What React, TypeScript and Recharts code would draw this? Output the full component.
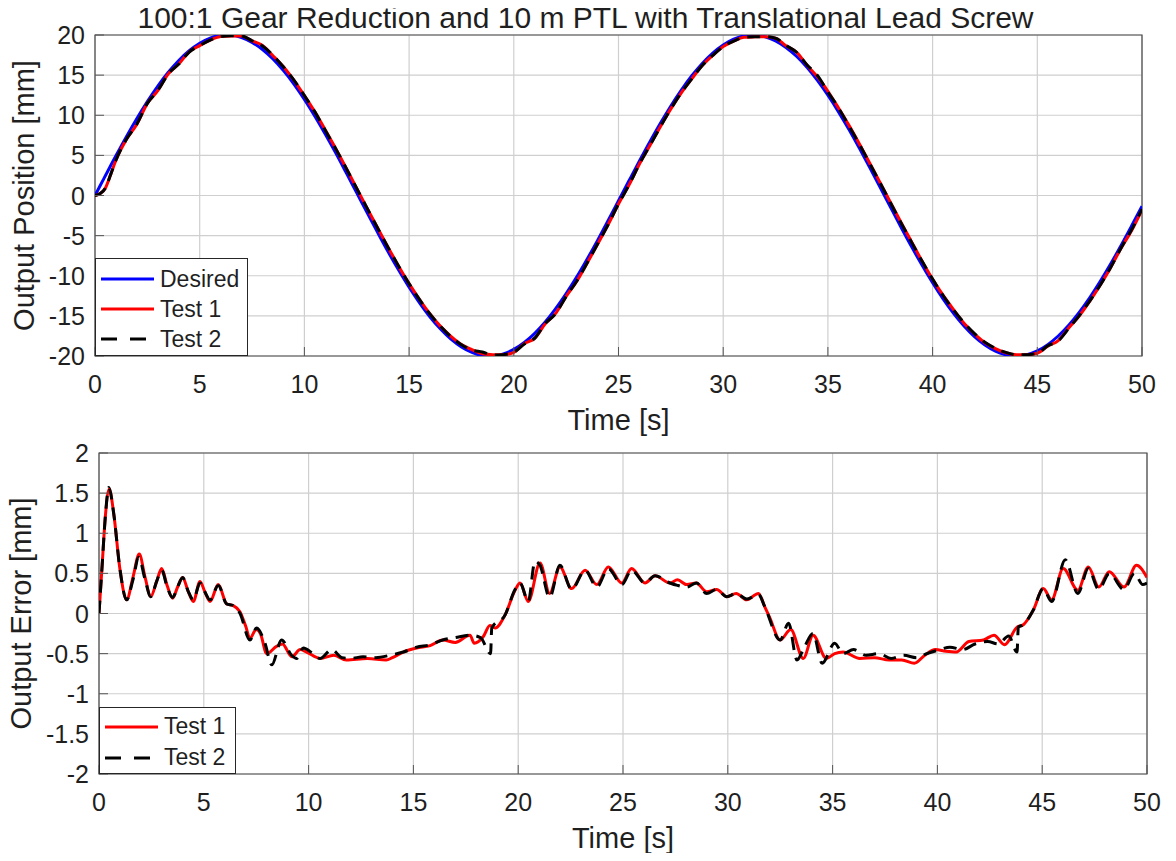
import React from "react";
import { LineChart, Line, XAxis, YAxis, CartesianGrid, Legend, ReferenceArea } from "recharts";

const FONT = '"Liberation Sans", Arial, Helvetica, sans-serif';
const INK = "#1f1f1f";
const GRID = "#cfcfcf";

const TITLE = "100:1 Gear Reduction and 10 m PTL with Translational Lead Screw";

// ---- top panel: output position [mm] ----
const topT = [
  0, 0.25, 0.5, 0.75, 1, 1.5, 2, 2.5, 3, 3.5, 4, 4.5, 5, 5.5, 6, 6.5, 7, 7.5, 8, 8.5, 9, 9.5, 10, 10.5, 11, 11.5, 12,
  12.5, 13, 13.5, 14, 14.5, 15, 15.5, 16, 16.5, 17, 17.5, 18, 18.5, 19, 19.5, 20, 20.5, 21, 21.5, 22, 22.5, 23, 23.5,
  24, 24.5, 25, 25.5, 26, 26.5, 27, 27.5, 28, 28.5, 29, 29.5, 30, 30.5, 31, 31.5, 32, 32.5, 33, 33.5, 34, 34.5, 35,
  35.5, 36, 36.5, 37, 37.5, 38, 38.5, 39, 39.5, 40, 40.5, 41, 41.5, 42, 42.5, 43, 43.5, 44, 44.5, 45, 45.5, 46, 46.5,
  47, 47.5, 48, 48.5, 49, 49.5, 50,
];

const desiredPos = [
  0, 1.25, 2.49, 3.73, 4.95, 7.33, 9.59, 11.7, 13.63, 15.35, 16.83, 18.05, 18.98, 19.62, 19.95, 19.97, 19.68, 19.08,
  18.19, 17.01, 15.56, 13.88, 11.97, 9.87, 7.63, 5.28, 2.82, 0.33, -2.16, -4.62, -7.02, -9.29, -11.43, -13.38, -15.14,
  -16.64, -17.9, -18.87, -19.55, -19.93, -19.99, -19.73, -19.18, -18.32, -17.18, -15.77, -14.11, -12.23, -10.17, -7.94,
  -5.59, -3.15, -0.66, 1.83, 4.3, 6.7, 9.0, 11.16, 13.14, 14.92, 16.46, 17.75, 18.76, 19.48, 19.89, 20.0, 19.79, 19.27,
  18.45, 17.35, 15.97, 14.34, 12.49, 10.45, 8.24, 5.9, 3.47, 1.0, -1.5, -3.98, -6.39, -8.7, -10.88, -12.89, -14.69,
  -16.27, -17.59, -18.64, -19.4, -19.85, -20.0, -19.83, -19.36, -18.58, -17.51, -16.17, -14.57, -12.75, -10.73, -8.54,
  -6.22, -3.8, -1.33,
];

const test1Pos = [
  0, 0.25, 0.94, 2.63, 4.4, 6.98, 8.89, 11.48, 13.07, 15.16, 16.38, 17.9, 18.68, 19.37, 19.8, 19.89, 19.86, 19.28,
  18.69, 17.42, 16.04, 14.35, 12.45, 10.42, 8.16, 5.83, 3.39, 0.89, -1.6, -4.04, -6.47, -8.81, -10.98, -12.96, -14.76,
  -16.31, -17.54, -18.57, -19.2, -19.73, -19.83, -19.83, -19.54, -18.47, -17.8, -16.0, -14.69, -12.58, -10.71, -8.44,
  -6.07, -3.65, -1.06, 1.29, 3.92, 6.23, 8.58, 10.79, 12.78, 14.54, 16.19, 17.45, 18.55, 19.24, 19.71, 19.77, 19.79,
  19.6, 18.65, 17.87, 16.25, 14.79, 12.99, 10.93, 8.77, 6.46, 4.02, 1.57, -0.92, -3.39, -5.78, -8.2, -10.43, -12.42,
  -14.22, -15.92, -17.24, -18.34, -19.07, -19.6, -19.85, -19.83, -19.66, -18.78, -18.07, -16.52, -15.02, -13.2, -11.18,
  -8.99, -6.57, -4.4, -1.78,
];

const test2Pos = [
  0, 0.25, 0.92, 2.63, 4.4, 7.0, 8.91, 11.48, 13.09, 15.15, 16.38, 17.88, 18.68, 19.37, 19.8, 19.9, 19.88, 19.28,
  18.64, 17.46, 16.01, 14.38, 12.45, 10.42, 8.09, 5.81, 3.38, 0.87, -1.61, -4.08, -6.5, -8.81, -10.99, -12.98, -14.78,
  -16.31, -17.6, -18.59, -19.26, -19.51, -19.89, -19.83, -19.54, -18.52, -17.78, -15.95, -14.71, -12.58, -10.69,
  -8.42, -6.04, -3.65, -1.04, 1.31, 3.92, 6.23, 8.58, 10.8, 12.81, 14.54, 16.21, 17.45, 18.55, 19.24, 19.7, 19.78,
  19.79, 19.6, 18.7, 17.85, 16.27, 14.96, 12.89, 10.95, 8.69, 6.4, 3.97, 1.53, -0.96, -3.46, -5.84, -8.2, -10.42,
  -12.46, -14.25, -15.85, -17.22, -18.28, -19.04, -19.55, -19.85, -19.83, -19.66, -18.73, -18.11, -16.57, -14.97,
  -13.15, -11.18, -8.96, -6.54, -4.27, -1.71,
];

// ---- bottom panel: output error [mm] ----
const err1T = [
  0, 0.15, 0.3, 0.49, 0.7, 1.0, 1.32, 1.62, 1.92, 2.2, 2.47, 2.75, 2.99, 3.25, 3.51, 3.75, 3.99, 4.25, 4.5, 4.82, 5.05,
  5.3, 5.69, 6.09, 6.4, 6.73, 7.0, 7.2, 7.5, 7.7, 8.0, 8.47, 8.75, 9.2, 9.6, 9.9, 10.55, 11.2, 11.8, 12.8, 13.7, 14.0,
  14.52, 15.15, 15.8, 16.4, 17.0, 17.7, 17.9, 18.33, 18.65, 18.9, 19.37, 19.85, 20.09, 20.48, 21.04, 21.5, 21.99,
  22.55, 23.19, 23.75, 24.3, 24.94, 25.41, 26.05, 26.53, 27.24, 27.6, 28.04, 28.5, 28.99, 29.47, 29.95, 30.4, 30.9,
  31.46, 31.77, 32.0, 32.5, 33.0, 33.6, 34.07, 34.7, 35.1, 35.5, 36.3, 37.0, 37.7, 38.3, 38.9, 39.4, 39.9, 40.4, 40.9,
  41.5, 42.2, 42.7, 43.2, 43.8, 44.1, 44.57, 45.05, 45.45, 46.0, 46.7, 47.2, 47.7, 48.2, 48.9, 49.5, 50,
];
const err1 = [
  0, 0.6, 1.2, 1.55, 1.25, 0.55, 0.17, 0.45, 0.74, 0.45, 0.21, 0.4, 0.56, 0.35, 0.19, 0.33, 0.45, 0.28, 0.15, 0.4, 0.27,
  0.15, 0.36, 0.12, 0.1, 0.02, -0.16, -0.31, -0.2, -0.25, -0.5, -0.41, -0.38, -0.54, -0.45, -0.48, -0.56, -0.52, -0.58,
  -0.56, -0.58, -0.55, -0.48, -0.43, -0.4, -0.33, -0.36, -0.27, -0.37, -0.29, -0.15, -0.18, -0.02, 0.29, 0.38, 0.15,
  0.63, 0.25, 0.58, 0.31, 0.54, 0.36, 0.58, 0.38, 0.56, 0.38, 0.47, 0.38, 0.42, 0.36, 0.38, 0.27, 0.3, 0.21, 0.25, 0.17,
  0.25, 0.08, -0.05, -0.33, -0.2, -0.56, -0.27, -0.56, -0.5, -0.48, -0.56, -0.55, -0.58, -0.58, -0.62, -0.52, -0.45,
  -0.47, -0.48, -0.35, -0.33, -0.27, -0.39, -0.17, -0.14, 0.04, 0.31, 0.17, 0.56, 0.29, 0.58, 0.33, 0.52, 0.33, 0.6,
  0.45,
];

const err2T = [
  0, 0.15, 0.3, 0.47, 0.7, 1.0, 1.32, 1.62, 1.9, 2.2, 2.47, 2.75, 2.99, 3.25, 3.51, 3.75, 3.99, 4.25, 4.5, 4.82, 5.05,
  5.3, 5.69, 6.09, 6.4, 6.73, 7.2, 7.52, 7.92, 8.24, 8.71, 9.19, 9.43, 9.75, 10.2, 10.55, 11.1, 11.6, 12.0, 12.6, 13.2,
  13.9, 14.52, 15.15, 15.8, 16.4, 17.0, 17.7, 18.2, 18.68, 18.74, 19.37, 19.85, 20.09, 20.48, 20.8, 21.04, 21.5, 21.99,
  22.55, 23.19, 23.75, 24.3, 24.94, 25.41, 26.05, 26.53, 27.24, 27.6, 28.04, 28.5, 28.99, 29.47, 29.95, 30.4, 30.9,
  31.2, 31.46, 31.77, 32.5, 32.9, 33.3, 33.65, 34.07, 34.5, 35.1, 35.5, 36.0, 36.6, 37.2, 37.8, 38.4, 39.0, 39.5, 40.0,
  40.6, 41.2, 41.8, 42.4, 42.9, 43.4, 43.8, 43.86, 44.1, 44.57, 45.05, 45.45, 46.1, 46.7, 47.2, 47.7, 48.2, 48.9, 49.4,
  49.8, 50,
];
const err2 = [
  0, 0.6, 1.2, 1.57, 1.25, 0.55, 0.17, 0.42, 0.7, 0.42, 0.21, 0.4, 0.54, 0.33, 0.2, 0.33, 0.45, 0.28, 0.17, 0.38, 0.27,
  0.17, 0.35, 0.12, 0.1, 0.0, -0.33, -0.18, -0.37, -0.64, -0.33, -0.52, -0.56, -0.43, -0.5, -0.56, -0.45, -0.55, -0.56,
  -0.54, -0.55, -0.52, -0.48, -0.42, -0.39, -0.33, -0.3, -0.27, -0.3, -0.5, -0.18, -0.02, 0.3, 0.38, 0.15, 0.65, 0.6,
  0.2, 0.6, 0.3, 0.54, 0.33, 0.56, 0.36, 0.54, 0.38, 0.47, 0.38, 0.35, 0.33, 0.38, 0.25, 0.3, 0.21, 0.25, 0.18, 0.21,
  0.24, 0.08, -0.33, -0.12, -0.58, -0.42, -0.25, -0.62, -0.37, -0.5, -0.45, -0.52, -0.5, -0.56, -0.52, -0.55, -0.5,
  -0.46, -0.42, -0.45, -0.38, -0.35, -0.38, -0.28, -0.48, -0.17, -0.14, 0.04, 0.31, 0.15, 0.67, 0.25, 0.56, 0.3, 0.5,
  0.3, 0.5, 0.36, 0.38,
];

const timeTicks = [0, 5, 10, 15, 20, 25, 30, 35, 40, 45, 50];
const posTicks = [-20, -15, -10, -5, 0, 5, 10, 15, 20];
const errTicks = [-2, -1.5, -1, -0.5, 0, 0.5, 1, 1.5, 2];

const topRows = topT.map((t, i) => ({ t, desired: desiredPos[i], test1: test1Pos[i], test2: test2Pos[i] }));
const err1Rows = err1T.map((t, i) => ({ t, v: err1[i] }));
const err2Rows = err2T.map((t, i) => ({ t, v: err2[i] }));

const TICK_FS = 25;
const LABEL_FS = 29;
const DASH = "13 8";

// MATLAB style: ticks point into the plot, labels sit outside
function XTick(props: any) {
  const { x, y, payload } = props;
  return (
    <g>
      <line x1={x} x2={x} y1={y} y2={y - 9} stroke="#555" strokeWidth={1} />
      <text x={x} y={y + 28} textAnchor="middle" dominantBaseline="central" fontSize={TICK_FS} fill={INK} fontFamily={FONT}>
        {String(payload.value)}
      </text>
    </g>
  );
}

function YTick(props: any) {
  const { x, y, payload } = props;
  return (
    <g>
      <line x1={x} x2={x + 9} y1={y} y2={y} stroke="#555" strokeWidth={1} />
      <text x={x - 10} y={y} textAnchor="end" dominantBaseline="central" fontSize={TICK_FS} fill={INK} fontFamily={FONT}>
        {String(payload.value)}
      </text>
    </g>
  );
}

const xLabel = (props: any) => {
  const vb = props.viewBox;
  return (
    <text x={vb.x + vb.width / 2} y={vb.y + 64} textAnchor="middle" dominantBaseline="central" fontSize={LABEL_FS} fill={INK} fontFamily={FONT}>
      Time [s]
    </text>
  );
};

const yLabel = (text: string, cx: number) => (props: any) => {
  const vb = props.viewBox;
  const cy = vb.y + vb.height / 2;
  return (
    <text
      x={cx}
      y={cy}
      transform={`rotate(-90 ${cx} ${cy})`}
      textAnchor="middle"
      dominantBaseline="central"
      fontSize={LABEL_FS}
      fill={INK}
      fontFamily={FONT}
    >
      {text}
    </text>
  );
};

function BoxLegend({ payload, padTop, rowH }: any) {
  return (
    <div
      style={{
        boxSizing: "border-box",
        width: "100%",
        height: "100%",
        border: "1px solid #262626",
        background: "#fff",
        paddingTop: padTop,
        fontFamily: FONT,
      }}
    >
      {(payload ?? []).map((e: any) => (
        <div key={e.value} style={{ display: "flex", alignItems: "center", height: rowH }}>
          <svg width={64} height={10} style={{ flex: "none" }}>
            <line
              x1={5}
              x2={58}
              y1={5}
              y2={5}
              stroke={e.color}
              strokeWidth={3}
              strokeDasharray={e.payload?.strokeDasharray ? "16 13" : undefined}
            />
          </svg>
          <span style={{ fontSize: 23, color: INK, lineHeight: 1 }}>{e.value}</span>
        </div>
      ))}
    </div>
  );
}

// both panels start at the page's left edge (under the body margin) so the
// rotated y labels have room
export default function App() {
  return (
    <div style={{ position: "relative", width: 1160, height: 845, background: "#fff", fontFamily: FONT }}>
      <div
        style={{
          position: "absolute",
          left: 0,
          top: -7,
          width: 1155,
          textAlign: "center",
          fontSize: 30,
          lineHeight: "34px",
          color: INK,
          whiteSpace: "nowrap",
        }}
      >
        {TITLE}
      </div>

      <div style={{ position: "absolute", left: -8, top: 0 }}>
        <LineChart width={1168} height={428} data={topRows} margin={{ top: 27, right: 26, bottom: 0, left: 0 }}>
          <CartesianGrid stroke={GRID} strokeWidth={1.2} />
          <XAxis
            dataKey="t"
            type="number"
            domain={[0, 50]}
            ticks={timeTicks}
            allowDataOverflow
            height={80}
            axisLine={false}
            tickLine={false}
            tickSize={0}
            tickMargin={0}
            tick={(p: any) => <XTick {...p} />}
            label={{ content: xLabel }}
          />
          <YAxis
            type="number"
            domain={[-20, 20]}
            ticks={posTicks}
            allowDataOverflow
            width={95}
            axisLine={false}
            tickLine={false}
            tickSize={0}
            tickMargin={0}
            tick={(p: any) => <YTick {...p} />}
            label={{ content: yLabel("Output Position [mm]", 24) }}
          />
          <ReferenceArea x1={0} x2={50} y1={-20} y2={20} fill="none" stroke="#4a4a4a" strokeWidth={1.2} ifOverflow="visible" />
          <Line dataKey="desired" name="Desired" type="monotone" stroke="#0000ff" strokeWidth={3} dot={false} isAnimationActive={false} />
          <Line dataKey="test1" name="Test 1" type="monotone" stroke="#ff0000" strokeWidth={3} dot={false} isAnimationActive={false} />
          <Line
            dataKey="test2"
            name="Test 2"
            type="monotone"
            stroke="#000000"
            strokeWidth={3}
            strokeDasharray={DASH}
            dot={false}
            isAnimationActive={false}
          />
          <Legend
            layout="horizontal"
            verticalAlign="middle"
            align="center"
            width={153}
            height={98}
            wrapperStyle={{ left: 95, top: 250, width: 153, height: 98 }}
            content={(p: any) => <BoxLegend {...p} padTop={5} rowH={30} />}
          />
        </LineChart>
      </div>

      <div style={{ position: "absolute", left: -8, top: 430 }}>
        <LineChart width={1168} height={420} margin={{ top: 15, right: 21, bottom: 0, left: 0 }}>
          <CartesianGrid stroke={GRID} strokeWidth={1.2} />
          <XAxis
            dataKey="t"
            type="number"
            domain={[0, 50]}
            ticks={timeTicks}
            allowDataOverflow
            height={84}
            axisLine={false}
            tickLine={false}
            tickSize={0}
            tickMargin={0}
            tick={(p: any) => <XTick {...p} />}
            label={{ content: xLabel }}
          />
          <YAxis
            type="number"
            domain={[-2, 2]}
            ticks={errTicks}
            allowDataOverflow
            width={99}
            axisLine={false}
            tickLine={false}
            tickSize={0}
            tickMargin={0}
            tick={(p: any) => <YTick {...p} />}
            label={{ content: yLabel("Output Error [mm]", 21) }}
          />
          <ReferenceArea x1={0} x2={50} y1={-2} y2={2} fill="none" stroke="#4a4a4a" strokeWidth={1.2} ifOverflow="visible" />
          <Line data={err1Rows} dataKey="v" name="Test 1" type="monotone" stroke="#ff0000" strokeWidth={3} dot={false} isAnimationActive={false} />
          <Line
            data={err2Rows}
            dataKey="v"
            name="Test 2"
            type="monotone"
            stroke="#000000"
            strokeWidth={3}
            strokeDasharray={DASH}
            dot={false}
            isAnimationActive={false}
          />
          <Legend
            layout="horizontal"
            verticalAlign="middle"
            align="center"
            width={137}
            height={67}
            wrapperStyle={{ left: 99, top: 269, width: 137, height: 67 }}
            content={(p: any) => <BoxLegend {...p} padTop={3} rowH={31} />}
          />
        </LineChart>
      </div>
    </div>
  );
}
